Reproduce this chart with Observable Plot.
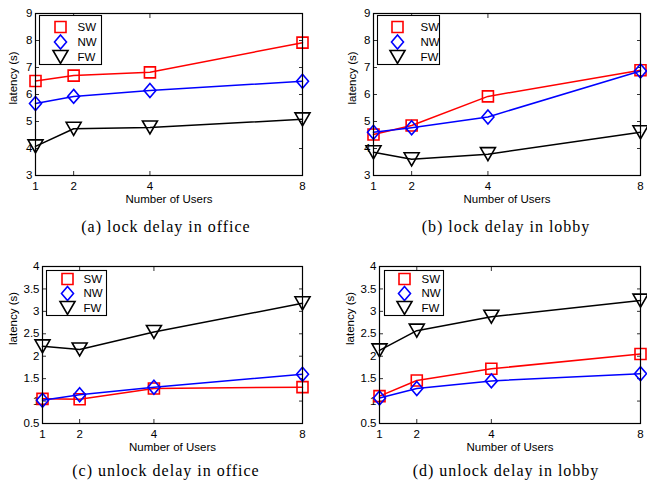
<!DOCTYPE html>
<html>
<head>
<meta charset="utf-8">
<script src="https://cdn.jsdelivr.net/npm/d3@7"></script>
<script src="https://cdn.jsdelivr.net/npm/@observablehq/plot@0.6"></script>
<style>
  html, body { margin: 0; padding: 0; background: #fff; }
  #root { position: relative; width: 647px; height: 482px; overflow: hidden; }
  .panel { position: absolute; }
  .cap { position: absolute; width: 300px; text-align: center; font-family: "Liberation Serif", "Times New Roman", serif; font-size: 16px; line-height: 16px; letter-spacing: 1px; color: #000; white-space: nowrap; }
</style>
</head>
<body>
<div id="root"></div>
<script>
// ---- data ----
const users = [1, 2, 4, 8];
const seriesNames = ["SW", "NW", "FW"];
const seriesColors = ["#ff0000", "#0000ff", "#000000"];

const officeLockSW = [6.50, 6.70, 6.82, 7.92];
const officeLockNW = [5.67, 5.93, 6.15, 6.49];
const officeLockFW = [4.08, 4.73, 4.78, 5.08];

const lobbyLockSW = [4.52, 4.85, 5.93, 6.90];
const lobbyLockNW = [4.60, 4.77, 5.17, 6.87];
const lobbyLockFW = [3.86, 3.60, 3.79, 4.60];

const officeUnlockSW = [1.05, 1.04, 1.28, 1.31];
const officeUnlockNW = [1.02, 1.14, 1.31, 1.60];
const officeUnlockFW = [2.22, 2.15, 2.54, 3.18];

const lobbyUnlockSW = [1.11, 1.46, 1.72, 2.05];
const lobbyUnlockNW = [1.07, 1.28, 1.45, 1.61];
const lobbyUnlockFW = [2.13, 2.57, 2.88, 3.24];

const xTicks = [1, 2, 4, 8];
const lockTicks = [3, 4, 5, 6, 7, 8, 9];
const unlockTicks = [0.5, 1, 1.5, 2, 2.5, 3, 3.5, 4];

const captions = ["(a) lock delay in office", "(b) lock delay in lobby", "(c) unlock delay in office", "(d) unlock delay in lobby"];
const xLabel = "Number of Users";
const yLabel = "latency (s)";

// ---- marker symbols (MATLAB-like) ----
const symSquare = {draw(c) { const s = 5.5; c.moveTo(-s, -s); c.lineTo(s, -s); c.lineTo(s, s); c.lineTo(-s, s); c.closePath(); }};
const symDiamond = {draw(c) { c.moveTo(0, -7); c.lineTo(6, 0); c.lineTo(0, 7); c.lineTo(-6, 0); c.closePath(); }};
const symTriDown = {draw(c) { c.moveTo(-7.5, -6.5); c.lineTo(7.5, -6.5); c.lineTo(0, 6.5); c.closePath(); }};
const symbols = [symSquare, symDiamond, symTriDown];

// ---- panel layout ----
const panels = [
  {series: [officeLockSW, officeLockNW, officeLockFW], yDomain: [3, 9], yTicks: lockTicks,
   left: 0, top: 0, width: 320, height: 210, mL: 35, mR: 18, mT: 13, mB: 35, ylDx: -22, ylDy: 10,
   leg: {x: 4, y: 2, w: 62, h: 49, mx: 25, tx: 42, y0: 13.5, step: 15}, cap: {cx: 166, top: 219}},
  {series: [lobbyLockSW, lobbyLockNW, lobbyLockFW], yDomain: [3, 9], yTicks: lockTicks,
   left: 320, top: 0, width: 327, height: 210, mL: 53, mR: 7, mT: 13, mB: 35, ylDx: -21, ylDy: 10,
   leg: {x: 4, y: 2, w: 62, h: 49, mx: 24, tx: 47, y0: 13.5, step: 15}, cap: {cx: 506, top: 219}},
  {series: [officeUnlockSW, officeUnlockNW, officeUnlockFW], yDomain: [0.5, 4], yTicks: unlockTicks,
   left: 0, top: 250, width: 320, height: 210, mL: 42, mR: 18, mT: 16, mB: 37, ylDx: -29, ylDy: 0,
   leg: {x: 4, y: 4, w: 60, h: 45, mx: 25, tx: 41, y0: 12.5, step: 14.5}, cap: {cx: 166, top: 463}},
  {series: [lobbyUnlockSW, lobbyUnlockNW, lobbyUnlockFW], yDomain: [0.5, 4], yTicks: unlockTicks,
   left: 320, top: 250, width: 327, height: 210, mL: 59, mR: 7, mT: 16, mB: 37, ylDx: -29, ylDy: 0,
   leg: {x: 5, y: 4, w: 59, h: 45, mx: 25, tx: 42, y0: 12.5, step: 14.5}, cap: {cx: 506, top: 463}}
];

const root = document.getElementById("root");

panels.forEach((p, pi) => {
  const fw = p.width - p.mL - p.mR;
  const fh = p.height - p.mT - p.mB;
  const marks = [];

  // axes: labels + inward ticks on all four sides
  marks.push(Plot.axisX(xTicks, {anchor: "bottom", tickSize: 0, tickPadding: 6, label: null, fontSize: 11.5}));
  marks.push(Plot.axisX(xTicks, {anchor: "bottom", tickSize: 4, dy: -4, tickFormat: () => "", label: null, stroke: "#333"}));
  marks.push(Plot.axisX(xTicks, {anchor: "top", tickSize: 4, dy: 4, tickFormat: () => "", label: null, stroke: "#333"}));
  marks.push(Plot.axisY(p.yTicks, {anchor: "left", tickSize: 0, tickPadding: 3, tickFormat: d => String(d), label: null, fontSize: 11.5}));
  marks.push(Plot.axisY(p.yTicks, {anchor: "left", tickSize: 4, dx: 4, tickFormat: () => "", label: null, stroke: "#333"}));
  marks.push(Plot.axisY(p.yTicks, {anchor: "right", tickSize: 4, dx: -4, tickFormat: () => "", label: null, stroke: "#333"}));

  marks.push(Plot.text([xLabel], {frameAnchor: "bottom", dy: 24, lineAnchor: "middle", text: d => d, fontSize: 11.5}));
  marks.push(Plot.text([yLabel], {frameAnchor: "left", dx: p.ylDx, dy: p.ylDy, rotate: -90, text: d => d, fontSize: 11.5}));

  // data series
  p.series.forEach((vals, si) => {
    const rows = users.map((u, i) => ({users: u, latency: vals[i]}));
    marks.push(Plot.line(rows, {x: "users", y: "latency", stroke: seriesColors[si], strokeWidth: 1.5}));
    marks.push(Plot.dot(rows, {x: "users", y: "latency", symbol: symbols[si], stroke: seriesColors[si], fill: "none", strokeWidth: 1.6}));
  });

  // legend box + entries
  const L = p.leg;
  marks.push(Plot.frame({insetLeft: L.x, insetTop: L.y, insetRight: fw - L.x - L.w, insetBottom: fh - L.y - L.h, fill: "white", stroke: "black", strokeWidth: 1.1}));
  seriesNames.forEach((name, si) => {
    marks.push(Plot.dot([name], {frameAnchor: "top-left", dx: L.mx, dy: L.y0 + si * L.step, symbol: symbols[si], stroke: seriesColors[si], fill: "none", strokeWidth: 1.6}));
    marks.push(Plot.text([name], {frameAnchor: "top-left", dx: L.tx, dy: L.y0 + si * L.step, lineAnchor: "middle", text: d => d, textAnchor: "start", fontSize: 11.5}));
  });

  marks.push(Plot.frame({stroke: "black", strokeWidth: 1.2}));

  const chart = Plot.plot({
    width: p.width,
    height: p.height,
    marginLeft: p.mL, marginRight: p.mR, marginTop: p.mT, marginBottom: p.mB,
    x: {type: "linear", domain: [1, 8]},
    y: {type: "linear", domain: p.yDomain},
    style: {fontFamily: "'Liberation Sans', Arial, Helvetica, sans-serif", fontSize: "11.5px", color: "#000", background: "transparent", overflow: "visible"},
    marks
  });
  chart.classList.add("panel");
  chart.style.left = p.left + "px";
  chart.style.top = p.top + "px";
  root.appendChild(chart);

  const cap = document.createElement("div");
  cap.className = "cap";
  cap.textContent = captions[pi];
  cap.style.left = (p.cap.cx - 150) + "px";
  cap.style.top = p.cap.top + "px";
  root.appendChild(cap);
});
</script>
</body>
</html>
